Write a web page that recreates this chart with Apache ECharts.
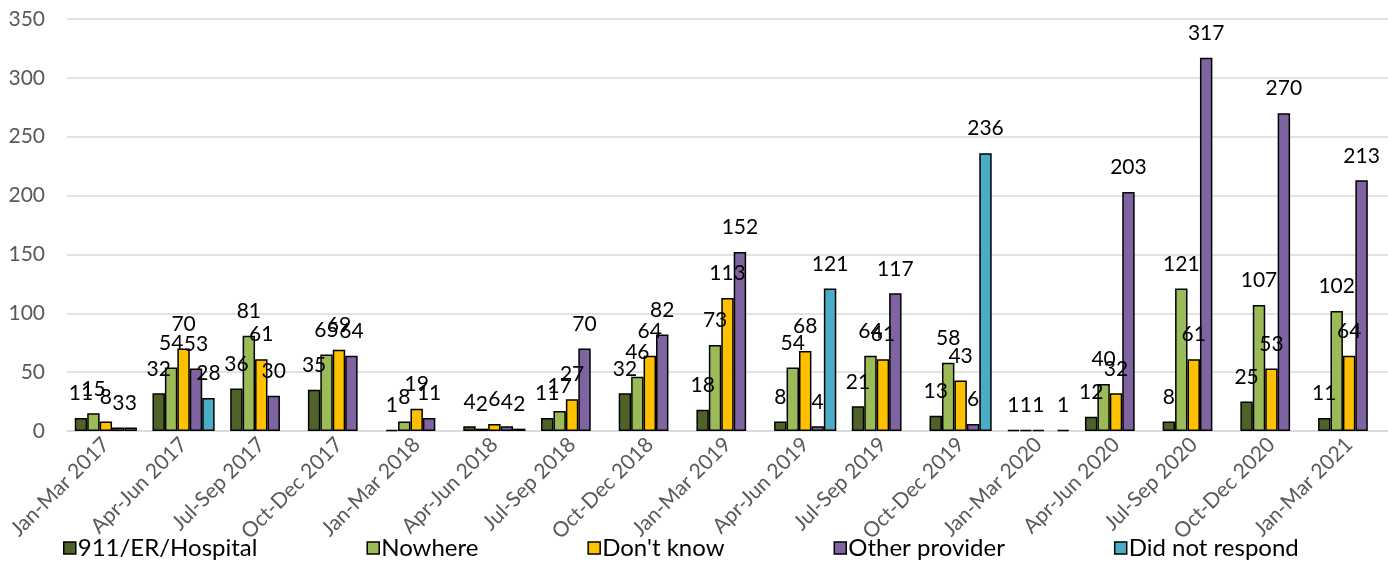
<!DOCTYPE html>
<html>
<head>
<meta charset="utf-8">
<script src="https://cdn.jsdelivr.net/npm/echarts@6/dist/echarts.min.js"></script>
<style>
  html, body { margin: 0; padding: 0; background: #ffffff; }
  #chart { width: 1388px; height: 561px; }
</style>
</head>
<body>
<div id="chart"></div>
<script>
// Quarterly responses: where people would have gone otherwise
const categories = [
  'Jan-Mar 2017', 'Apr-Jun 2017', 'Jul-Sep 2017', 'Oct-Dec 2017',
  'Jan-Mar 2018', 'Apr-Jun 2018', 'Jul-Sep 2018', 'Oct-Dec 2018',
  'Jan-Mar 2019', 'Apr-Jun 2019', 'Jul-Sep 2019', 'Oct-Dec 2019',
  'Jan-Mar 2020', 'Apr-Jun 2020', 'Jul-Sep 2020', 'Oct-Dec 2020',
  'Jan-Mar 2021'
];
const erHospital    = [11, 32, 36, 35, 1, 4, 11, 32, 18, 8, 21, 13, 1, 12, 8, 25, 11];
const nowhere       = [15, 54, 81, 65, 8, 2, 17, 46, 73, 54, 64, 58, 1, 40, 121, 107, 102];
const dontKnow      = [8, 70, 61, 69, 19, 6, 27, 64, 113, 68, 61, 43, 1, 32, 61, 53, 64];
const otherProvider = [3, 53, 30, 64, 11, 4, 70, 82, 152, 4, 117, 6, null, 203, 317, 270, 213];
const noResponse    = [3, 28, null, null, null, 2, null, null, null, 121, null, 236, 1, null, null, null, null];
const yTicks = { min: 0, max: 350, interval: 50 };

const seriesDefs = [
  { name: '911/ER/Hospital', data: erHospital, color: '#4F6228' },
  { name: 'Nowhere', data: nowhere, color: '#9BBB59' },
  { name: "Don't know", data: dontKnow, color: '#FFC000' },
  { name: 'Other provider', data: otherProvider, color: '#8064A2' },
  { name: 'Did not respond', data: noResponse, color: '#4BACC6' }
];

const FONT = 'Lato, "Open Sans", sans-serif';

const chart = echarts.init(document.getElementById('chart'), null, { renderer: 'canvas' });
chart.setOption({
  animation: false,
  backgroundColor: '#ffffff',
  textStyle: { fontFamily: FONT },
  grid: { left: 67, right: 0, top: 19, bottom: 130, containLabel: false },
  legend: {
    top: 531,
    left: 58,
    itemWidth: 12,
    itemHeight: 12,
    itemGap: 109,
    icon: 'rect',
    itemStyle: { borderColor: '#000000', borderWidth: 1.5 },
    textStyle: { fontFamily: FONT, fontSize: 24, color: '#000000', padding: [0, 0, 0, -3] },
    data: seriesDefs.map(s => s.name)
  },
  xAxis: {
    type: 'category',
    data: categories,
    axisLine: { show: true, lineStyle: { color: '#D9D9D9', width: 1.5 } },
    axisTick: { show: false },
    axisLabel: {
      rotate: 45,
      interval: 0,
      margin: 10,
      fontFamily: FONT,
      fontSize: 21,
      color: '#595959'
    }
  },
  yAxis: {
    type: 'value',
    min: yTicks.min,
    max: yTicks.max,
    interval: yTicks.interval,
    axisLine: { show: false },
    axisTick: { show: false },
    axisLabel: { margin: 22, fontFamily: FONT, fontSize: 21, color: '#595959' },
    splitLine: { lineStyle: { color: '#D9D9D9', width: 1.5 } }
  },
  series: seriesDefs.map(s => ({
    name: s.name,
    type: 'bar',
    data: s.data,
    barGap: '0%',
    barCategoryGap: '20%',
    itemStyle: { color: s.color, borderColor: '#000000', borderWidth: 1.5 },
    label: {
      show: true,
      position: 'top',
      distance: 14,
      fontFamily: FONT,
      fontSize: 21,
      color: '#000000'
    }
  }))
});
</script>
</body>
</html>
